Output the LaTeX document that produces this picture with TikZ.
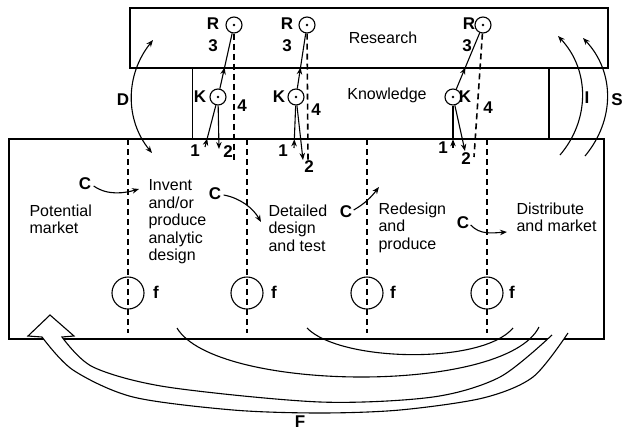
\documentclass[tikz,border=0pt]{standalone}
\usepackage{fontspec}
\setmainfont{Liberation Sans}
\usetikzlibrary{arrows.meta,calc}
\begin{document}
\begin{tikzpicture}[x=1pt,y=-1pt,
  line width=1.1pt,
  box/.style={draw, line width=1.2pt},
  dashv/.style={line width=1.6pt, dash pattern=on 6pt off 4pt},
  lbl/.style={font=\fontsize{17}{18}\selectfont\bfseries, inner sep=0pt},
  txt/.style={font=\fontsize{16}{17.6}\selectfont, align=left, inner sep=0pt, anchor=north west},
  dotc/.style={circle, draw, line width=1.1pt, minimum size=16pt, inner sep=0pt,
     path picture={\fill (path picture bounding box.center) circle (1.4pt);}},
  fcirc/.style={circle, draw, line width=1.1pt, minimum size=32pt, inner sep=0pt},
  tip/.style={-{Stealth[length=7pt,width=5.5pt]}}
]
\useasboundingbox (0,0) rectangle (625,432);

% boxes
\draw[box] (130,8) rectangle (608,68);
\draw[line width=0.8pt] (192,68) -- (192,139);
\draw[line width=1.2pt] (549,68) -- (549,139);
\draw[box] (9,139) rectangle (604,339);

\node[font=\fontsize{16}{18}\selectfont, inner sep=0pt] (research) at (383,38) {Research};
\node[font=\fontsize{16}{18}\selectfont, inner sep=0pt] (knowledge) at (387,95) {Knowledge};

% dashed verticals and f circles
\foreach \x/\n in {128/1,247/2,367/3,487/4}{
  \draw[dashv] (\x,139) -- (\x,333);
  \node[fcirc] (f\n) at (\x,293) {};
}
\node[lbl] (fl1) at (156,292) {f};
\node[lbl] (fl2) at (274,292) {f};
\node[lbl] (fl3) at (393,292) {f};
\node[lbl] (fl4) at (512,292) {f};

% R and K circles
\node[dotc] (R1) at (234,25) {};
\node[dotc] (R2) at (307,25) {};
\node[dotc] (R3) at (483,25) {};
\node[dotc] (K1) at (218,97) {};
\node[dotc] (K2) at (296,97) {};
\node[dotc] (K3) at (453,97) {};

\node[lbl] (Rl1) at (213,24) {R};
\node[lbl] (Rn1) at (213,46) {3};
\node[lbl] (Rl2) at (287,24) {R};
\node[lbl] (Rn2) at (287,46) {3};
\node[lbl] (Rl3) at (469,24) {R};
\node[lbl] (Rn3) at (467,46) {3};
\node[lbl] (Kl1) at (200,97) {K};
\node[lbl] (Kl2) at (279,97) {K};
\node[lbl] (Kl3) at (465,97) {K};
\node[lbl] (Kn1) at (242,106) {4};
\node[lbl] (Kn2) at (316,110) {4};
\node[lbl] (Kn3) at (488,108) {4};

% K -> R (arrowhead at the box boundary)
\foreach \i in {1,2,3}{
  \coordinate (m\i) at ($(K\i)!0.41!(R\i)$);
  \draw[tip] (K\i) -- (m\i);
  \draw (m\i) -- (R\i);
}

% dashed 4 lines
\coordinate (d1) at (234,160);
\coordinate (d2) at (308,160);
\coordinate (d3) at (474,157);
\draw[dashv] (R1) -- (d1);
\draw[dashv] (R2) -- (d2);
\draw[dashv] (R3) -- (d3);

% arrows 1 and 2
\coordinate (a1) at (205,147);
\coordinate (a2) at (294,148);
\coordinate (a3) at (453,148);
\coordinate (b1) at (219,149);
\coordinate (b2) at (303,160);
\coordinate (b3) at (465,151);
\foreach \i in {1,2,3}{
  \coordinate (n\i) at ($(a\i)!0.17!(K\i)$);
  \draw[tip] (a\i) -- (n\i);
  \draw (n\i) -- (K\i);
  \draw[tip] (K\i) -- (b\i);
}
\node[lbl] (o1) at (195,151) {1};
\node[lbl] (t1) at (228,152) {2};
\node[lbl] (o2) at (283,151) {1};
\node[lbl] (t2) at (309,167) {2};
\node[lbl] (o3) at (443,148) {1};
\node[lbl] (t3) at (466,159) {2};

% D, I, S
\coordinate (D1) at (153,40);
\coordinate (D2) at (152,153);
\draw[{Stealth[length=7pt,width=5.5pt]}-{Stealth[length=7pt,width=5.5pt]}] (D2) .. controls (125,120) and (125,75) .. (D1);
\node[lbl] (Dl) at (123,100) {D};
\coordinate (I1) at (560,155);
\coordinate (I2) at (558,36);
\draw[tip] (I1) .. controls (590,120) and (590,70) .. (I2);
\node[lbl] (Il) at (587,98) {I};
\coordinate (S1) at (585,156);
\coordinate (S2) at (583,38);
\draw[tip] (S1) .. controls (615,120) and (615,72) .. (S2);
\node[lbl] (Sl) at (617,100) {S};

% text blocks
\node[txt] (pm) at (29,204) {Potential\\market};
\node[txt] (inv) at (148,179) {Invent\\and/or\\produce\\analytic\\design};
\node[txt] (det) at (268,204) {Detailed\\design\\and test};
\node[txt] (red) at (378,202) {Redesign\\and\\produce};
\node[txt] (dis) at (516,202) {Distribute\\and market};

% C arrows
\node[lbl] (C1) at (85,184) {C};
\node[lbl] (C2) at (215,194) {C};
\node[lbl] (C3) at (346,212) {C};
\node[lbl] (C4) at (463,223) {C};
\coordinate (c1) at (139,189);
\coordinate (c2) at (261,222);
\coordinate (c3) at (379,187);
\coordinate (c4) at (507,232);
\draw[tip] (C1.east) ++(2,2) .. controls (108,196) and (125,193) .. (c1);
\draw[tip] (C2.east) ++(2,1) .. controls (240,198) and (253,208) .. (c2);
\draw[tip] (C3.east) ++(1,-2) .. controls (366,203) and (372,196) .. (c3);
\draw[tip] (C4.east) ++(1,2) .. controls (480,235) and (492,233) .. (c4);

% bottom feedback arcs
\coordinate (A1) at (307,328);
\coordinate (A2) at (513,328);
\draw (A1) .. controls (340,362) and (482,365) .. (A2);
\coordinate (B1) at (177,328);
\coordinate (B2) at (539,327);
\draw (B1) .. controls (215,392) and (505,395) .. (B2);

% big hollow F arrow
\fill[white] plot[smooth] coordinates {(568,333) (533,377) (483,398) (400,410) (320,413) (233,410) (133,397) (73,370) (42,337)}
   -- (28,336) -- (50,315) -- (74,336) -- (62,337)
   -- plot[smooth] coordinates {(62,337) (93,367) (167,387) (320,402) (433,397) (500,377) (552,335)} -- cycle;
\draw[line join=miter] plot[smooth] coordinates {(568,333) (533,377) (483,398) (400,410) (320,413) (233,410) (133,397) (73,370) (42,337)}
   -- (28,336) -- (50,315) -- (74,336) -- (62,337)
   -- plot[smooth] coordinates {(62,337) (93,367) (167,387) (320,402) (433,397) (500,377) (552,335)};
\node[lbl] (Fl) at (300,422) {F};
\end{tikzpicture}
\end{document}
